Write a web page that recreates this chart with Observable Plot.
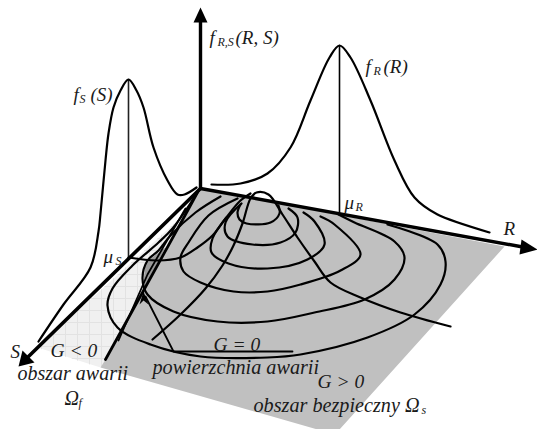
<!DOCTYPE html>
<html><head><meta charset="utf-8">
<style>html,body{margin:0;padding:0;background:#fff}svg{display:block}</style>
<script src="https://cdn.jsdelivr.net/npm/d3@7"></script>
<script src="https://cdn.jsdelivr.net/npm/@observablehq/plot@0.6"></script>
</head><body><div id="c"></div>
<script>
// Diagram, in the picture's own x/y units
const safePlane = [[200,188],[504,246],[339,429],[317,429],[100,367],[105,359],[185,214]];
const failPlane = [[37,347],[100,367],[105,359],[185,214],[175,222]];
const sliver = [[145,262],[165,247],[155,266],[142,292]];
const curveFS = [[38,341],[63,304],[90,267],[98,231],[100,213],[105,160],[108,133],[113,107],[120,90],[128,79],[136,90],[143,107],[153,147],[167,180],[177,194],[184,194],[196,187]];
const curveFR = [[211,184],[240,183],[267,173],[290,147],[310,100],[329,57],[339,45],[350,57],[370,100],[394,160],[414,197],[437,214],[489,232]];
const ruleS = [[128,79],[128,257]];
const ruleR = [[339,45],[339,212]];
const contour1 = [[240,204],[237,212],[239,219],[246,223],[270,222],[279,213],[278,205]];
const contour2 = [[241,203],[225,222],[227,236],[252,244],[280,242],[295,232],[297,217],[288,208]];
const contour3 = [[226,217],[212,238],[211,252],[228,263],[267,268],[307,259],[324,244],[314,221],[303,212]];
const contour4 = [[237,198],[208,215],[188,242],[180,257],[183,271],[200,282],[233,291],[267,291],[300,284],[340,270],[360,254],[334,224],[320,216]];
const contour5 = [[220,196],[195,212],[170,235],[158,250],[147,260],[142,278],[147,294],[173,311],[217,321],[267,321],[314,312],[364,299],[394,279],[404,257],[394,241],[354,222],[338,214]];
const contour6 = [[197,192],[172,228],[158,242],[132,265],[112,288],[107,305],[117,327],[150,344],[200,356],[267,357],[300,354],[367,337],[414,314],[440,284],[445,261],[437,244],[387,224]];
const sectionS = [[128,257],[157,260],[180,257],[197,247],[212,235],[225,218],[240,200],[250,193]];
const sectionR = [[152,339],[180,314],[205,288],[222,265],[233,245],[242,223],[250,198],[256,192],[268,194],[282,214],[297,237],[314,261],[330,282],[360,297],[400,312],[450,326]];
const limitOuter = [[105,359],[185,214],[198,190]];
const limitInner = [[118,340],[147,274],[185,208]];
const gLeader = [[292,351],[173,351],[145,296]];
const axisF = [[200,188],[200,20]];
const axisR = [[200,188],[525,247]];
const axisS = [[200,188],[28,356]];
const headF = [[200,7],[207,22],[193,22]];
const headR = [[537,249],[521,239],[519,254]];
const headS = [[18,366],[34,362],[22,350]];
const headG = [[143,291],[148,304],[143,300],[139,304]];

const words = [
  ["f",209,43,19],["(R, S)",235,43,19],["f",73,100,19],["(S)",90,100,19],
  ["f",365,72,19],["(R)",383,72,19],["μ",344,208,19],["μ",103,262,19],
  ["R",503,234,19],["S",10,357,19],["G < 0",50,356,19.5],["G = 0",213,350,19.5],["G > 0",317,387,19.5],
  ["obszar awarii",17,379,20],["Ω",64,404,20],["powierzchnia awarii",152,373,20.2],["obszar bezpieczny Ω",253,411,20.2]
];
const subs = [["R,S",217,45],["S",79,102],["R",373,74],["R",355,210],["S",115,264],["f",78,406],["s",421,413]];

const gridStep = 12;
const gridXs = d3.range(41, 185, gridStep);
const gridYs = d3.range(226, 368, gridStep);

function chord(poly, axis, v) {
  const hits = [];
  poly.forEach((p, i) => {
    const q = poly[(i + 1) % poly.length];
    const a = p[axis], b = q[axis];
    if ((a <= v && b > v) || (b <= v && a > v)) {
      const t = (v - a) / (b - a);
      hits.push(p.map((c, k) => c + t * (q[k] - c)));
    }
  });
  hits.sort((m, n) => m[1 - axis] - n[1 - axis]);
  return hits.length >= 2 ? [hits[0], hits[hits.length - 1]] : null;
}
const gridSegs = [...gridXs.map(v => chord(failPlane, 0, v)), ...gridYs.map(v => chord(failPlane, 1, v))].filter(Boolean);

const X = d => d[0], Y = d => d[1];
const shape = (pts, fill) => Plot.line(pts, {x: X, y: Y, fill, stroke: "none"});
const path = (pts, strokeWidth, extra = {}) => Plot.line(pts, {x: X, y: Y, stroke: "#000", strokeWidth, curve: "catmull-rom", strokeLinejoin: "round", ...extra});
const straight = (pts, strokeWidth, stroke = "#000") => Plot.line(pts, {x: X, y: Y, stroke, strokeWidth, curve: "linear"});
const serif = {fontFamily: "Liberation Serif", fontStyle: "italic", fill: "#1a1a1a", textAnchor: "start", lineAnchor: "bottom"};

const chart = Plot.plot({
  width: 537, height: 429, margin: 0,
  x: {domain: [0, 537], axis: null},
  y: {domain: [429, 0], axis: null},
  marks: [
    shape(failPlane, "#f0f0f0"),
    ...gridSegs.map(s => straight(s, 1, "#e2e2e2")),
    shape(safePlane, "#c0c0c0"),
    shape(sliver, "#9a9a9a"),
    straight(ruleS, 1.6, "#222"),
    straight(ruleR, 1.6),
    ...[contour1, contour2, contour3, contour4, contour5, contour6, sectionS, sectionR, curveFS, curveFR].map(c => path(c, 2.2)),
    straight(limitOuter, 2.8),
    straight(limitInner, 1.8),
    straight(gLeader, 1.8),
    straight(axisF, 3.4),
    straight(axisR, 3.4),
    straight(axisS, 3.6),
    shape(headF, "#000"), shape(headR, "#000"), shape(headS, "#000"), shape(headG, "#000"),
    Plot.text(words, {x: d => d[1], y: d => d[2], text: d => d[0], fontSize: d => d[3], ...serif}),
    Plot.text(subs, {x: d => d[1], y: d => d[2], text: d => d[0], fontSize: 12, ...serif})
  ]
});
document.getElementById("c").append(chart);
</script></body></html>
